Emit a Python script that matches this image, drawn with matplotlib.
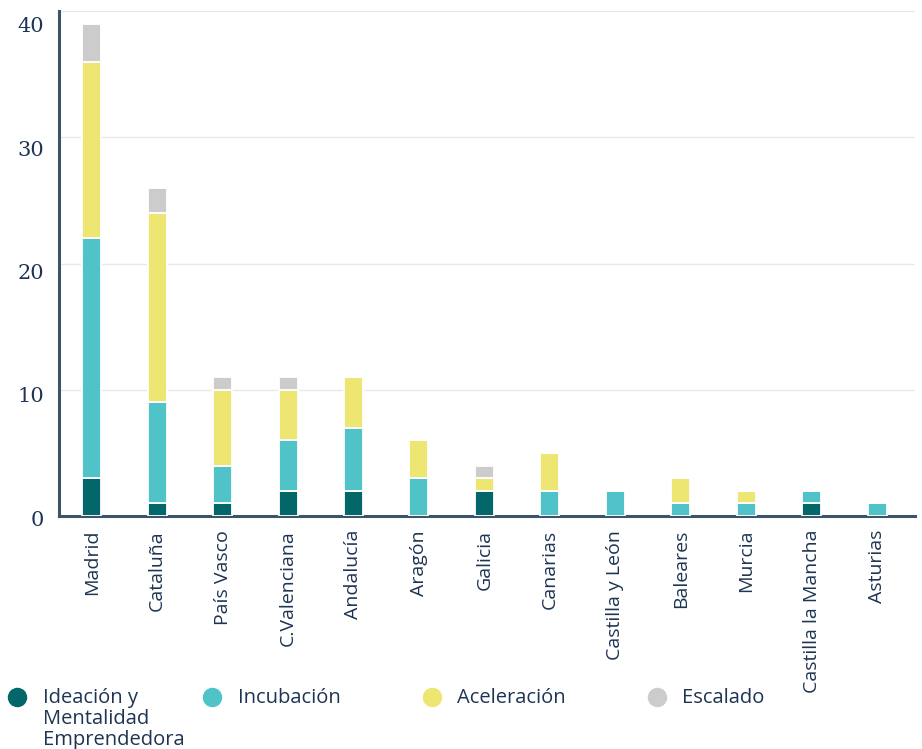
import matplotlib
matplotlib.use("Agg")
import matplotlib.pyplot as plt
import numpy as np
from matplotlib.lines import Line2D
from matplotlib.transforms import ScaledTranslation

regions = ["Madrid", "Cataluña", "País Vasco", "C.Valenciana", "Andalucía", "Aragón",
           "Galicia", "Canarias", "Castilla y León", "Baleares", "Murcia",
           "Castilla la Mancha", "Asturias"]
ideacion = [3, 1, 1, 2, 2, 0, 2, 0, 0, 0, 0, 1, 0]
incubacion = [19, 8, 3, 4, 5, 3, 0, 2, 2, 1, 1, 1, 1]
aceleracion = [14, 15, 6, 4, 4, 3, 1, 3, 0, 2, 1, 0, 0]
escalado = [3, 2, 1, 1, 0, 0, 1, 0, 0, 0, 0, 0, 0]
series_names = ["Ideación y\nMentalidad\nEmprendedora", "Incubación", "Aceleración", "Escalado"]
colors = ["#03676a", "#50c3c8", "#ede673", "#cccccc"]
yticks = [0, 10, 20, 30, 40]

navy = "#1d3452"
fig = plt.figure(figsize=(9.22, 7.49), dpi=100)
ax = fig.add_axes([59/922, 1-516/749, (915-59)/922, (516-11)/749])

x = np.arange(len(regions))
bottom = np.zeros(len(regions))
for vals, col in zip([ideacion, incubacion, aceleracion, escalado], colors):
    v = np.array(vals, dtype=float)
    ax.bar(x, v, bottom=bottom, width=0.29, color=col, edgecolor="white",
           linewidth=1.3, zorder=3)
    bottom += v

ax.set_xlim(-0.5, len(regions) - 0.42)
ax.set_ylim(0, 40)
ax.set_yticks(yticks)
ax.set_yticklabels([str(t) for t in yticks], fontfamily="DejaVu Serif",
                   fontsize=15, color=navy)
ax.tick_params(axis="y", length=0, pad=10.5)
for lab, t in zip(ax.get_yticklabels(), yticks):
    off = -(2 + 3 * t / 10) / fig.dpi
    lab.set_transform(lab.get_transform() + ScaledTranslation(0, off, fig.dpi_scale_trans))

ax.set_xticks(x)
ax.set_xticklabels(regions, rotation=90, fontfamily="Open Sans", fontsize=14,
                   color=navy, va="top", ha="center")
ax.tick_params(axis="x", length=0, pad=10)

ax.grid(axis="y", color="#e9e9e9", linewidth=1, zorder=0)
for s in ["top", "right"]:
    ax.spines[s].set_visible(False)
for s in ["left", "bottom"]:
    ax.spines[s].set_color("#3d536a")
    ax.spines[s].set_linewidth(2.2)

# legend
cx = [17, 212, 432, 657]
tx = [43, 238, 457, 682]
ly = 697
for name, col, c, t in zip(series_names, colors, cx, tx):
    fig.add_artist(Line2D([c/922], [1-ly/749], marker="o", markersize=13,
                          color=col, linestyle="none", transform=fig.transFigure))
    fig.text(t/922, 1-(ly-9)/749, name, fontfamily="Open Sans", fontsize=14.5,
             color=navy, va="top", ha="left", linespacing=1.08)

fig.savefig("out.png", dpi=100)
